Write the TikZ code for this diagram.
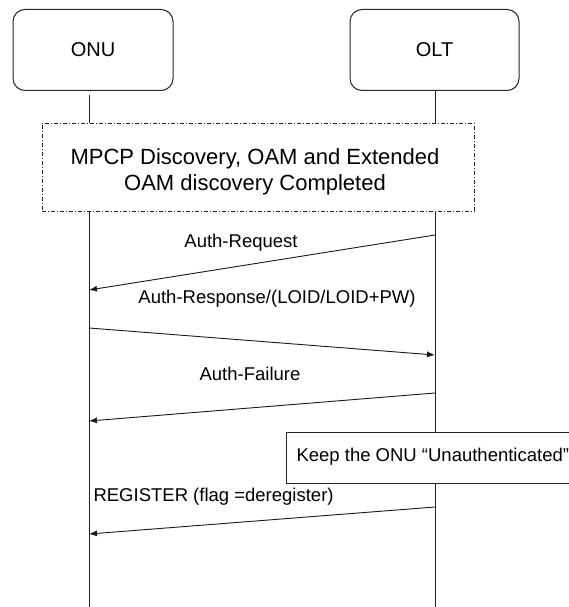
\documentclass[tikz,border=0pt]{standalone}
\usepackage{fontspec}
\setmainfont{Liberation Sans}
\usetikzlibrary{arrows.meta}
\begin{document}
\begin{tikzpicture}[x=1pt,y=-1pt,
  every node/.style={font=\fontsize{18.5}{22}\selectfont, text=black},
  actor/.style={draw=black!85, line width=1pt, rounded corners=12pt, fill=white, inner sep=0pt, font=\fontsize{20}{24}\selectfont},
  life/.style={draw=black!85, line width=1pt},
  msg/.style={draw=black!90, line width=0.9pt, -{Latex[length=8pt,width=6pt]}},
  phase/.style={draw=black!85, line width=0.9pt, fill=white, dash pattern=on 4pt off 2pt on 1pt off 2pt, inner sep=0pt, align=center},
  phasetext/.style={font=\fontsize{22}{26}\selectfont},
  note/.style={draw=black!85, line width=0.9pt, fill=white, inner sep=0pt}]
\useasboundingbox (0,0) rectangle (569,607);
% participants
\node[actor, minimum width=160pt, minimum height=81pt] (onu) at (93,50) {ONU};
\node[actor, minimum width=169pt, minimum height=81pt] (olt) at (434.5,50) {OLT};
% lifelines
\coordinate (onutop) at (89,95);
\coordinate (onubot) at (89,607);
\coordinate (olttop) at (435,90);
\coordinate (oltbot) at (435,607);
\draw[life] (onutop) -- (onubot);
\draw[life] (olttop) -- (oltbot);
% discovery phase box
\node[phase, minimum width=432pt, minimum height=88pt] (disc) at (258,167) {};
\node[phasetext] (disc1) at (255,159) {MPCP Discovery, OAM and Extended};
\node[phasetext] (disc2) at (255,185) {OAM discovery Completed};
% messages
\coordinate (a1) at (435,235);
\coordinate (b1) at (89,290);
\draw[msg] (a1) -- (b1);
\node (l1) at (241,243) {Auth-Request};
\coordinate (a2) at (89,328);
\coordinate (b2) at (435,355);
\draw[msg] (a2) -- (b2);
\node (l2) at (277,299) {Auth-Response/(LOID/LOID+PW)};
\coordinate (a3) at (435,393);
\coordinate (b3) at (89,421);
\draw[msg] (a3) -- (b3);
\node (l3) at (250,374) {Auth-Failure};
% note box
\node[note, minimum width=300pt, minimum height=51pt, anchor=north west] (keep) at (286,432) {};
\node[anchor=west] (keeptxt) at (293,457) {Keep the ONU “Unauthenticated”};
\coordinate (a4) at (435,507);
\coordinate (b4) at (89,534);
\draw[msg] (a4) -- (b4);
\node[anchor=west] (l4) at (90,497) {REGISTER (flag =deregister)};
\end{tikzpicture}
\end{document}
